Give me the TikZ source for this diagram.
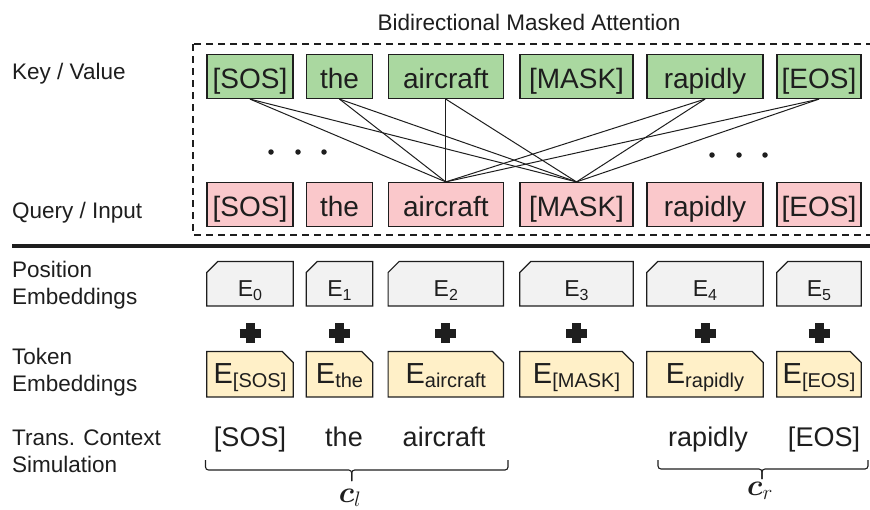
\RequirePackage{fix-cm}
\documentclass[tikz,border=0pt]{standalone}
\usepackage{fontspec}
\setmainfont{Liberation Sans}
\usepackage{bm}
\usetikzlibrary{backgrounds}
\definecolor{ink}{RGB}{30,30,30}
\definecolor{kvfill}{RGB}{170,216,160}
\definecolor{qfill}{RGB}{250,200,203}
\definecolor{pefill}{RGB}{242,242,242}
\definecolor{tefill}{RGB}{255,240,200}
\newcommand{\pesub}[1]{\raisebox{-3.3pt}{\fontsize{16}{16}\selectfont #1}}
\newcommand{\tesub}[1]{\raisebox{-4.5pt}{\fontsize{20}{20}\selectfont #1}}
\begin{document}
\begin{tikzpicture}[x=1pt,y=-1pt,
  lbl/.style={font=\fontsize{22.5}{27.5}\selectfont, align=left, anchor=west, inner sep=0pt, text=ink},
  lblb/.style={font=\fontsize{22.5}{27.5}\selectfont, anchor=base west, inner sep=0pt, text=ink},
  tok/.style={draw=ink, line width=1.2pt, inner sep=0pt, minimum height=44pt, font=\fontsize{28}{30}\selectfont, text=ink, text height=24pt, text depth=0pt},
  kv/.style={tok, fill=kvfill},
  qi/.style={tok, fill=qfill},
  pe/.style={inner sep=0pt, minimum height=44pt, font=\fontsize{23}{26}\selectfont, text=ink, text height=26pt, text depth=0pt},
  te/.style={inner sep=0pt, minimum height=45pt, font=\fontsize{29}{32}\selectfont, text=ink, text height=18pt, text depth=0pt},
  chamf/.style={draw=ink, line width=1.2pt},
  att/.style={draw=ink, line width=1pt},
  word/.style={font=\fontsize{27}{30}\selectfont, text=ink, inner sep=0pt, anchor=base},
  dotn/.style={fill=ink, circle, inner sep=0pt, minimum size=5.5pt},
  plusarm/.style={draw=ink, line width=9pt},
  bracel/.style={draw=ink, line width=1.1pt, rounded corners=3pt},
  cvar/.style={font=\fontsize{30}{32}\selectfont, text=ink, inner sep=0pt, anchor=base}
]
\useasboundingbox (0,0) rectangle (870,509);
\clip (0,0) rectangle (870,509);

% title and dashed frame
\node[font=\fontsize{22.5}{26}\selectfont, text=ink, inner sep=0pt, anchor=base] (title) at (529,30.7) {Bidirectional Masked Attention};
\draw[ink, line width=1.3pt, dash pattern=on 7pt off 5pt] (193,44) rectangle (900,235);

% left labels
\node[lblb] (lkv) at (12,79.3) {Key / Value};
\node[lblb] (lqi) at (12,218) {Query / Input};
\node[lbl] (lpe) at (12,285) {Position\\Embeddings};
\node[lbl] (lte) at (12,372) {Token\\Embeddings};
\node[lbl] (ltc) at (12,451) {Trans. Context\\Simulation};

% key / value row
\node[kv, minimum width=86pt] (k1) at (250,76.5) {[SOS]};
\node[kv, minimum width=66pt] (k2) at (339.5,76.5) {the};
\node[kv, minimum width=115pt] (k3) at (445.8,76.5) {aircraft};
\node[kv, minimum width=113pt] (k4) at (576.5,76.5) {[MASK]};
\node[kv, minimum width=116pt] (k5) at (705,76.5) {rapidly};
\node[kv, minimum width=84pt] (k6) at (819,76.5) {[EOS]};

% query / input row
\node[qi, minimum width=86pt] (q1) at (250,204.5) {[SOS]};
\node[qi, minimum width=66pt] (q2) at (339.5,204.5) {the};
\node[qi, minimum width=115pt] (q3) at (445.8,204.5) {aircraft};
\node[qi, minimum width=113pt] (q4) at (576.5,204.5) {[MASK]};
\node[qi, minimum width=116pt] (q5) at (705,204.5) {rapidly};
\node[qi, minimum width=84pt] (q6) at (819,204.5) {[EOS]};

% attention connections
\foreach \k in {1,2,3,5,6}{
  \foreach \q in {3,4}{
    \draw[att] (k\k.south) -- (q\q.north);
  }
}

% ellipsis dots
\node[dotn] (dl1) at (271,152) {};
\node[dotn] (dl2) at (298,152) {};
\node[dotn] (dl3) at (324,152) {};
\node[dotn] (dr1) at (712,155) {};
\node[dotn] (dr2) at (739,155) {};
\node[dotn] (dr3) at (765,155) {};

% separator
\draw[ink, line width=4pt] (12,246) -- (880,246);

% position embeddings
\node[pe, minimum width=86pt] (p1) at (250,283.7) {E\pesub{0}};
\node[pe, minimum width=66pt] (p2) at (339.5,283.7) {E\pesub{1}};
\node[pe, minimum width=115pt] (p3) at (445.8,283.7) {E\pesub{2}};
\node[pe, minimum width=113pt] (p4) at (576.5,283.7) {E\pesub{3}};
\node[pe, minimum width=116pt] (p5) at (705,283.7) {E\pesub{4}};
\node[pe, minimum width=84pt] (p6) at (819,283.7) {E\pesub{5}};

% token embeddings
\node[te, minimum width=86pt] (t1) at (250,374.2) {E\tesub{[SOS]}};
\node[te, minimum width=66pt] (t2) at (339.5,374.2) {E\tesub{the}};
\node[te, minimum width=115pt] (t3) at (445.8,374.2) {E\tesub{aircraft}};
\node[te, minimum width=113pt] (t4) at (576.5,374.2) {E\tesub{[MASK]}};
\node[te, minimum width=116pt] (t5) at (705,374.2) {E\tesub{rapidly}};
\node[te, minimum width=84pt] (t6) at (819,374.2) {E\tesub{[EOS]}};

\begin{scope}[on background layer]
\foreach \i in {1,...,6}{
  \draw[chamf, fill=pefill] ([xshift=11pt]p\i.north west) -- (p\i.north east) -- (p\i.south east) -- (p\i.south west) -- ([yshift=-11pt]p\i.north west) -- cycle;
  \draw[chamf, fill=tefill] (t\i.north west) -- ([xshift=-11pt]t\i.north east) -- ([yshift=-11pt]t\i.north east) -- (t\i.south east) -- (t\i.south west) -- cycle;
}
\end{scope}

% plus signs
\coordinate (plusrow) at (0,333);
\foreach \i in {1,...,6}{
  \coordinate (pl\i) at (p\i.south |- plusrow);
  \draw[plusarm] ([xshift=-10.5pt]pl\i) -- ([xshift=10.5pt]pl\i);
  \draw[plusarm] ([yshift=-10pt]pl\i) -- ([yshift=10pt]pl\i);
}

% transformer context simulation
\node[word] (w1) at (250,446) {[SOS]};
\node[word] (w2) at (344,446) {the};
\node[word] (w3) at (444,446) {aircraft};
\node[word] (w5) at (708,446) {rapidly};
\node[word] (w6) at (824,446) {[EOS]};

% braces
\coordinate (bl1) at (205.5,460);
\coordinate (blm) at (351.7,470);
\coordinate (bl2) at (508,460);
\draw[bracel] (bl1) |- (blm) -- ++(0,11);
\draw[bracel] ([yshift=-11pt]blm) -- (blm) -| (bl2);
\coordinate (br1) at (658,460);
\coordinate (brm) at (762,469);
\coordinate (br2) at (868,460);
\draw[bracel] (br1) |- (brm) -- ++(0,10);
\draw[bracel] ([yshift=-10pt]brm) -- (brm) -| (br2);

\node[cvar] (cl) at (350,502) {$\bm{c}_l$};
\node[cvar] (cr) at (760,495) {$\bm{c}_r$};
\end{tikzpicture}
\end{document}
